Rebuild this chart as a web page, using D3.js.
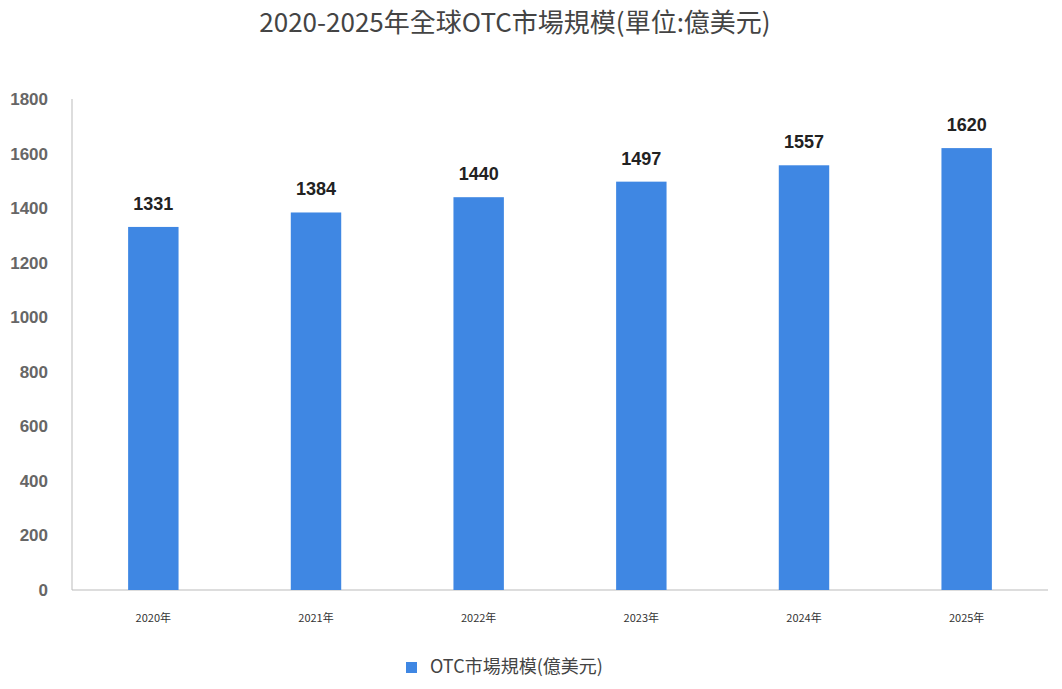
<!DOCTYPE html>
<html><head><meta charset="utf-8">
<script src="https://cdn.jsdelivr.net/npm/d3@7"></script>
<style>body{margin:0;background:#fff;font-family:"Noto Sans CJK TC","Noto Sans",sans-serif;}</style>
</head><body><div id="chart"></div>
<script>
var years = ["2020年","2021年","2022年","2023年","2024年","2025年"];
var values = [1331,1384,1440,1497,1557,1620];
var yTicks = [0,200,400,600,800,1000,1200,1400,1600,1800];

var svg = d3.select("#chart").append("svg").attr("width",1062).attr("height",689);
var x = d3.scaleBand().domain(years).range([72,1048]).paddingInner(0.69).paddingOuter(0.345);
var y = d3.scaleLinear().domain([0,1800]).range([590,99]);

svg.append("text").attr("x",515).attr("y",32).attr("text-anchor","middle")
  .attr("font-size",26).attr("fill","#444").text("2020-2025年全球OTC市場規模(單位:億美元)");

svg.append("line").attr("x1",72).attr("x2",72).attr("y1",99).attr("y2",590).attr("stroke","#bbb");
svg.append("line").attr("x1",72).attr("x2",1048).attr("y1",590).attr("y2",590).attr("stroke","#bbb");

svg.selectAll(".yt").data(yTicks).enter().append("text")
  .attr("x",48).attr("y",function(d){return y(d)+6;}).attr("text-anchor","end")
  .attr("font-family","Liberation Sans, Arial").attr("font-weight","bold")
  .attr("font-size",17).attr("fill","#666").text(function(d){return d;});

svg.selectAll(".bar").data(values).enter().append("rect")
  .attr("x",function(d,i){return x(years[i]);}).attr("width",x.bandwidth())
  .attr("y",function(d){return y(d);}).attr("height",function(d){return 590-y(d);})
  .attr("fill","#3f87e3");

svg.selectAll(".lbl").data(values).enter().append("text")
  .attr("x",function(d,i){return x(years[i])+x.bandwidth()/2;})
  .attr("y",function(d){return y(d)-17;}).attr("text-anchor","middle")
  .attr("font-family","Liberation Sans, Arial").attr("font-weight","bold")
  .attr("font-size",18).attr("fill","#222").text(function(d){return d;});

svg.selectAll(".xt").data(years).enter().append("text")
  .attr("x",function(d){return x(d)+x.bandwidth()/2;}).attr("y",622)
  .attr("text-anchor","middle").attr("font-size",11).attr("fill","#333").text(function(d){return d;});

svg.append("rect").attr("x",406).attr("y",662).attr("width",11).attr("height",11).attr("fill","#3f87e3");
svg.append("text").attr("x",430).attr("y",673).attr("font-size",18).attr("fill","#444").text("OTC市場規模(億美元)");
</script></body></html>
